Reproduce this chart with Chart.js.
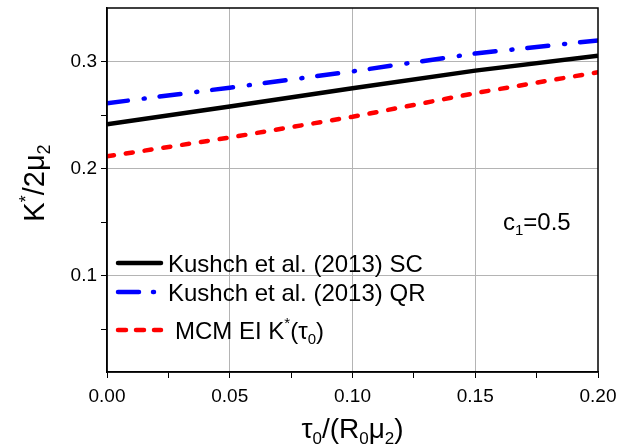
<!DOCTYPE html>
<html>
<head>
<meta charset="utf-8">
<script src="https://cdn.jsdelivr.net/npm/chart.js@4"></script>
<style>
  html, body { margin: 0; padding: 0; background: #fff; }
  #wrap { width: 617px; height: 447px; }
</style>
</head>
<body>
<div id="wrap"><canvas id="chart" width="617" height="447"></canvas></div>
<script>
// tau0/(R0 mu2) values and K*/2mu2
const xVals   = [0, 0.05, 0.10, 0.15, 0.20]
const scVals  = [0.2415, 0.258, 0.275, 0.2915, 0.3055]
const qrVals  = [0.261, 0.2756, 0.2908, 0.3075, 0.3197]
const mcmVals = [0.2114, 0.229, 0.2484, 0.2705, 0.290]

const xTicks = [0, 0.025, 0.05, 0.075, 0.10, 0.125, 0.15, 0.175, 0.20]
const xLabelTicks = [0, 0.05, 0.10, 0.15, 0.20]
const yTicks = [0.05, 0.10, 0.15, 0.20, 0.25, 0.30]
const yLabelTicks = [0.10, 0.20, 0.30]

const FONT = '"Liberation Sans", Arial, sans-serif'

const isIn = (arr, v) => arr.some(a => Math.abs(a - v) < 1e-9)
const pts = ys => xVals.map((x, i) => ({ x, y: ys[i] }))

// draws text with sub/superscripts, parts: [text, kind] kind = '' | 'sub' | 'sup'
function rich(ctx, parts, x, y, size, align) {
  const small = Math.round(size * 0.62)
  const pieces = parts.map(([t, k]) => {
    const s = k ? small : size
    ctx.font = `${s}px ${FONT}`
    return { t, k, s, w: ctx.measureText(t).width }
  })
  const total = pieces.reduce((a, p) => a + p.w, 0)
  let cx = align === 'center' ? x - total / 2 : x
  ctx.textAlign = 'left'
  ctx.textBaseline = 'alphabetic'
  for (const p of pieces) {
    ctx.font = `${p.s}px ${FONT}`
    let dy = 0
    if (p.k === 'sub') dy = size * 0.22
    if (p.k === 'sup') dy = -size * 0.42
    ctx.fillText(p.t, cx, y + dy)
    cx += p.w
  }
}

const extras = {
  id: 'extras',
  afterDatasetsDraw(chart) {
    const { ctx, chartArea: a } = chart
    ctx.save()
    // frame
    ctx.strokeStyle = '#000'
    ctx.lineWidth = 1.5
    ctx.strokeRect(a.left, a.top, a.right - a.left, a.bottom - a.top)

    ctx.fillStyle = '#000'
    // axis titles
    rich(ctx, [['\u03c4', ''], ['0', 'sub'], ['/(R', ''], ['0', 'sub'], ['\u03bc', ''], ['2', 'sub'], [')', '']],
      (a.left + a.right) / 2, 438, 28, 'center')
    ctx.save()
    ctx.translate(44, 183)
    ctx.rotate(-Math.PI / 2)
    rich(ctx, [['K', ''], ['*', 'sup'], ['/2\u03bc', ''], ['2', 'sub']], 0, 0, 29, 'center')
    ctx.restore()

    // annotation
    rich(ctx, [['c', ''], ['1', 'sub'], ['=0.5', '']], 503, 230, 24, 'left')

    // legend
    const rows = [
      { ds: chart.data.datasets[0], y: 263, tx: 168, parts: [['Kushch et al. (2013) SC', '']] },
      { ds: chart.data.datasets[1], y: 292, tx: 168, parts: [['Kushch et al. (2013) QR', '']] },
      { ds: chart.data.datasets[2], y: 330, tx: 175,
        parts: [['MCM EI K', ''], ['*', 'sup'], ['(\u03c4', ''], ['0', 'sub'], [')', '']] }
    ]
    for (const r of rows) {
      ctx.strokeStyle = r.ds.borderColor
      ctx.lineWidth = r.ds.borderWidth
      ctx.lineCap = 'round'
      ctx.setLineDash(r.ds.legendDash || [])
      ctx.beginPath()
      ctx.moveTo(118, r.y)
      ctx.lineTo(161, r.y)
      ctx.stroke()
      ctx.setLineDash([])
      ctx.fillStyle = '#000'
      rich(ctx, r.parts, r.tx, r.y + 8.5, 24, 'left')
    }
    ctx.restore()
  }
}

new Chart(document.getElementById('chart'), {
  type: 'line',
  data: {
    datasets: [
      { label: 'Kushch et al. (2013) SC', data: pts(scVals), borderColor: '#000000',
        borderWidth: 4.5, borderDash: [], legendDash: [] },
      { label: 'Kushch et al. (2013) QR', data: pts(qrVals), borderColor: '#0000ff',
        borderWidth: 4.5, borderDash: [21, 16, 1, 15], legendDash: [21, 14, 1, 8],
        borderCapStyle: 'round' },
      { label: 'MCM EI K*(tau0)', data: pts(mcmVals), borderColor: '#ff0000',
        borderWidth: 4.5, borderDash: [7, 12], legendDash: [8, 10], borderCapStyle: 'round' }
    ]
  },
  options: {
    responsive: false,
    animation: false,
    layout: { padding: { left: 0, right: 19, top: 8, bottom: 0 } },
    elements: { point: { radius: 0 }, line: { tension: 0 } },
    plugins: { legend: { display: false }, tooltip: { enabled: false } },
    scales: {
      x: {
        type: 'linear', min: 0, max: 0.2,
        afterBuildTicks: s => { s.ticks = xTicks.map(v => ({ value: v })) },
        afterFit: s => { s.height = 75; s.paddingLeft = 0; s.paddingRight = 0 },
        ticks: {
          autoSkip: false, maxRotation: 0, padding: 7, color: '#000',
          font: { family: FONT, size: 19 },
          callback: v => isIn(xLabelTicks, v) ? v.toFixed(2) : ''
        },
        grid: {
          color: c => (c.tick && isIn([0.05, 0.10, 0.15], c.tick.value)) ? '#b4b4b4' : 'rgba(0,0,0,0)',
          tickColor: '#000', tickLength: 6, lineWidth: 1
        },
        border: { display: true, color: '#000', width: 1.5 }
      },
      y: {
        type: 'linear', min: 0.01, max: 0.35,
        afterBuildTicks: s => { s.ticks = yTicks.map(v => ({ value: v })) },
        afterFit: s => { s.width = 107; s.paddingTop = 0; s.paddingBottom = 0 },
        ticks: {
          autoSkip: false, padding: 4, color: '#000',
          font: { family: FONT, size: 19 },
          callback: v => isIn(yLabelTicks, v) ? v.toFixed(1) : ''
        },
        grid: {
          color: c => (c.tick && isIn(yLabelTicks, c.tick.value)) ? '#b4b4b4' : 'rgba(0,0,0,0)',
          tickColor: '#000', tickLength: 6, lineWidth: 1
        },
        border: { display: true, color: '#000', width: 1.5 }
      }
    }
  },
  plugins: [extras]
})
</script>
</body>
</html>
